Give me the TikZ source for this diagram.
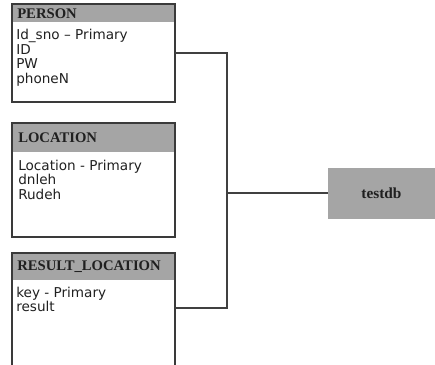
\documentclass[tikz,border=0pt]{standalone}
\usepackage{fontspec}
\setmainfont{Liberation Serif}
\newfontfamily\bodyfont{DejaVu Sans}
\definecolor{hdrgray}{HTML}{A5A5A5}
\definecolor{boxline}{HTML}{3A3A3A}
\definecolor{connline}{HTML}{404040}
\definecolor{txt}{HTML}{202020}
\begin{document}
\begin{tikzpicture}[x=0.75pt,y=-0.75pt,
  hdr/.style={fill=hdrgray, draw=none, anchor=north west, minimum width=122.25pt, inner sep=0pt, outer sep=0pt},
  entity/.style={draw=boxline, line width=1.1pt, anchor=north west, minimum width=122.25pt, inner sep=0pt, outer sep=0pt},
  hdrtext/.style={anchor=west, inner sep=0pt, text=txt, font=\fontsize{11}{12}\selectfont\bfseries},
  fields/.style={anchor=north west, inner sep=0pt, align=left, text=txt, font=\bodyfont\fontsize{10.2}{11}\selectfont},
  conn/.style={draw=connline, line width=0.8pt},
  dbbox/.style={fill=hdrgray, draw=none, minimum width=80.25pt, minimum height=38.25pt, inner sep=0pt, text=txt, font=\fontsize{11.5}{12}\selectfont\bfseries}]
\useasboundingbox (0,0) rectangle (435,364);
% headers
\node[hdr, minimum height=13.5pt] (personhdr) at (12,4) {};
\node[hdr, minimum height=21.75pt] (lochdr) at (12,123) {};
\node[hdr, minimum height=20.25pt] (reshdr) at (12,253) {};
% boxes
\node[entity, minimum height=73.5pt] (person) at (12,4) {};
\node[entity, minimum height=85.5pt] (location) at (12,123) {};
\node[entity, minimum height=84.75pt] (result) at (12,253) {};
% header texts
\node[hdrtext] (personname) at (17,13.5) {PERSON};
\node[hdrtext] (locname) at (18,137.5) {LOCATION};
\node[hdrtext] (resname) at (17,266.5) {RESULT\_LOCATION};
% fields
\node[fields] (personfields) at (16,29) {Id\_sno – Primary\\ID\\PW\\phoneN};
\node[fields] (locfields) at (18,159.5) {Location - Primary\\dnleh\\Rudeh};
\node[fields] (resfields) at (16,286.5) {key - Primary\\result};
% testdb
\node[dbbox] (testdb) at (381.5,193) {testdb};
\coordinate (bus) at (227,193);
\coordinate (resport) at (175,308);
\draw[conn] (person.east) -| (bus);
\draw[conn] (bus) |- (resport);
\draw[conn] (bus) -- (testdb.west);
\end{tikzpicture}
\end{document}
